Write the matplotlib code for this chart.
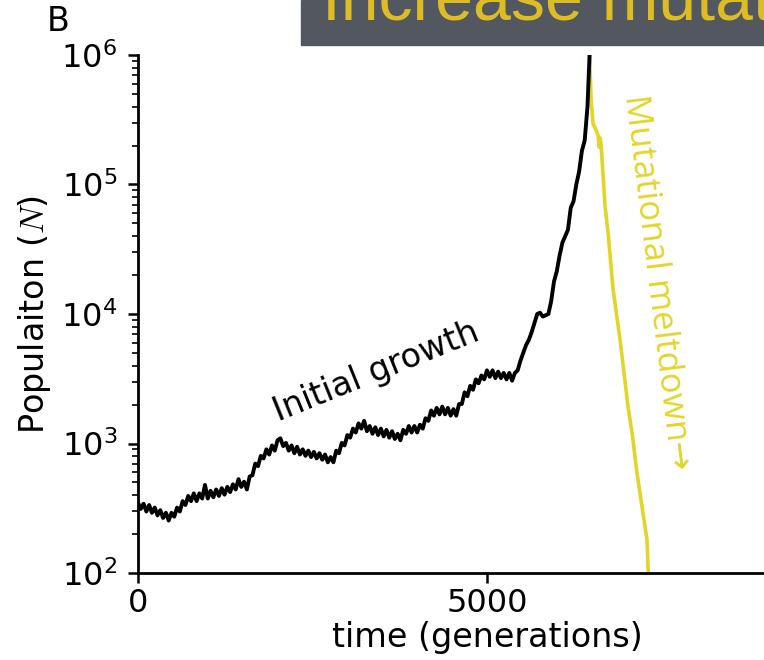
import numpy as np
import matplotlib
matplotlib.use("Agg")
import matplotlib.pyplot as plt
from matplotlib.patches import Rectangle

# Population size (log10 N) while the population grows at the base mutation rate
growth_generations = [
    0, 40, 80, 120, 160, 200, 240, 280, 320, 360, 400, 440, 480, 520, 560, 600,
    640, 680, 720, 760, 800, 840, 880, 920, 960, 1000, 1040, 1080, 1120, 1160,
    1200, 1240, 1280, 1320, 1360, 1400, 1440, 1480, 1520, 1560, 1600, 1640, 1680,
    1720, 1760, 1800, 1840, 1880, 1920, 1960, 2000, 2040, 2080, 2120, 2160, 2200,
    2240, 2280, 2320, 2360, 2400, 2440, 2480, 2520, 2560, 2600, 2640, 2680, 2720,
    2760, 2800, 2840, 2880, 2920, 2960, 3000, 3040, 3080, 3120, 3160, 3200, 3240,
    3280, 3320, 3360, 3400, 3440, 3480, 3520, 3560, 3600, 3640, 3680, 3720, 3760,
    3800, 3840, 3880, 3920, 3960, 4000, 4040, 4080, 4120, 4160, 4200, 4240, 4280,
    4320, 4360, 4400, 4440, 4480, 4520, 4560, 4600, 4640, 4680, 4720, 4760, 4800,
    4840, 4880, 4920, 4960, 5000, 5040, 5080, 5120, 5160, 5200, 5240, 5280, 5320,
    5360, 5400, 5440, 5480, 5520, 5560, 5600, 5640, 5680, 5720, 5760, 5800, 5840,
    5880, 5920, 5960, 6000, 6040, 6080, 6120, 6160, 6200, 6240, 6280, 6320, 6360,
    6400, 6440, 6470,
]
growth_log_pop = [
    2.545, 2.495, 2.535, 2.475, 2.525, 2.465, 2.505, 2.445, 2.485, 2.425, 2.465, 2.405, 2.465, 2.435, 2.505, 2.475,
    2.555, 2.525, 2.595, 2.555, 2.615, 2.555, 2.615, 2.575, 2.680, 2.575, 2.635, 2.585, 2.645, 2.595,
    2.655, 2.605, 2.665, 2.625, 2.685, 2.645, 2.725, 2.665, 2.705, 2.645, 2.745, 2.755, 2.845,
    2.825, 2.905, 2.885, 2.955, 2.915, 2.985, 2.945, 3.025, 3.040, 2.980, 3.005, 2.945, 2.985,
    2.925, 2.975, 2.915, 2.955, 2.905, 2.945, 2.895, 2.935, 2.885, 2.925, 2.875, 2.915, 2.855,
    2.895, 2.855, 2.945, 2.925, 3.005, 2.985, 3.065, 3.045, 3.115, 3.085, 3.155, 3.115, 3.175,
    3.095, 3.135, 3.075, 3.125, 3.065, 3.115, 3.055, 3.105, 3.045, 3.095, 3.035, 3.075, 3.025,
    3.105, 3.075, 3.135, 3.085, 3.135, 3.085, 3.145, 3.115, 3.195, 3.175, 3.255, 3.215, 3.275,
    3.225, 3.285, 3.225, 3.275, 3.215, 3.265, 3.215, 3.305, 3.305, 3.395, 3.365, 3.445, 3.415,
    3.495, 3.465, 3.525, 3.495, 3.565, 3.515, 3.565, 3.505, 3.555, 3.505, 3.545, 3.495, 3.545,
    3.485, 3.545, 3.565, 3.640, 3.700, 3.760, 3.800, 3.860, 3.930, 4.000, 4.010, 3.980, 3.990,
    4.000, 4.100, 4.250, 4.330, 4.450, 4.550, 4.600, 4.650, 4.820, 4.870, 5.000, 5.100, 5.260,
    5.340, 5.600, 6.000,
]

# Population size (log10 N) after the mutation rate is raised
meltdown_generations = [
    6470, 6492, 6520, 6563, 6592, 6606, 6620, 6635, 6692, 6720, 6735, 6807,
    6907, 7022, 7079, 7150, 7222, 7294, 7310,
]
meltdown_log_pop = [
    6.00, 5.65, 5.47, 5.42, 5.38, 5.29, 5.36, 5.31, 4.83, 4.70, 4.63, 4.19,
    3.80, 3.28, 3.08, 2.77, 2.51, 2.25, 2.00,
]

GROWTH_COLOR = "black"
MELTDOWN_COLOR = "#e2d52a"
BANNER_COLOR = "#53575f"
BANNER_TEXT_COLOR = "#dcbd25"

plt.rcParams["font.family"] = ["DejaVu Sans"]
# serif italic N in the axis label; \mathdefault tick labels stay in DejaVu
plt.rcParams["mathtext.fontset"] = "cm"

fig = plt.figure(figsize=(7.64, 6.60), dpi=100)
ax = fig.add_axes([0.1806, 0.1318, 0.9136, 0.7849])

ax.plot(growth_generations, 10 ** np.array(growth_log_pop),
        color=GROWTH_COLOR, lw=2.8, zorder=3)
ax.plot(meltdown_generations, 10 ** np.array(meltdown_log_pop),
        color=MELTDOWN_COLOR, lw=2.6, zorder=2)

ax.set_yscale("log")
ax.set_xlim(0, 10000)
ax.set_ylim(1e2, 1e6)
ax.set_xticks([0, 5000])

for side in ("top", "right"):
    ax.spines[side].set_visible(False)
for side in ("left", "bottom"):
    ax.spines[side].set_linewidth(2.0)

ax.tick_params(which="major", direction="out", length=7, width=1.8, labelsize=23)
ax.tick_params(which="minor", direction="out", length=4, width=1.2)
ax.tick_params(axis="y", which="major", pad=8)

ax.set_xlabel("time (generations)", fontsize=24, labelpad=2)
ax.set_ylabel("Populaiton ($N$)", fontsize=24, labelpad=6)

ax.text(3411, 3565, "Initial growth", rotation=22, fontsize=24,
        ha="center", va="center", color=GROWTH_COLOR)
ax.text(7437, 17660, "Mutational meltdown\u2192", rotation=-83, fontsize=25,
        family=["Open Sans", "DejaVu Sans"], color=MELTDOWN_COLOR,
        ha="center", va="center")

# Panel letter and the title banner across the top
fig.text(47 / 764, 1 - 31 / 660, "B", fontsize=24, va="baseline", ha="left")
fig.patches.append(Rectangle((301 / 764, 1 - 45 / 660), 1.0, 45 / 660,
                             transform=fig.transFigure, color=BANNER_COLOR,
                             zorder=5))
fig.text(322 / 764, 1 - 20 / 660, "Increase mutation rate", fontsize=49,
         family=["Liberation Sans"], color=BANNER_TEXT_COLOR,
         va="baseline", ha="left", zorder=6)

fig.savefig("out.png", dpi=100)
